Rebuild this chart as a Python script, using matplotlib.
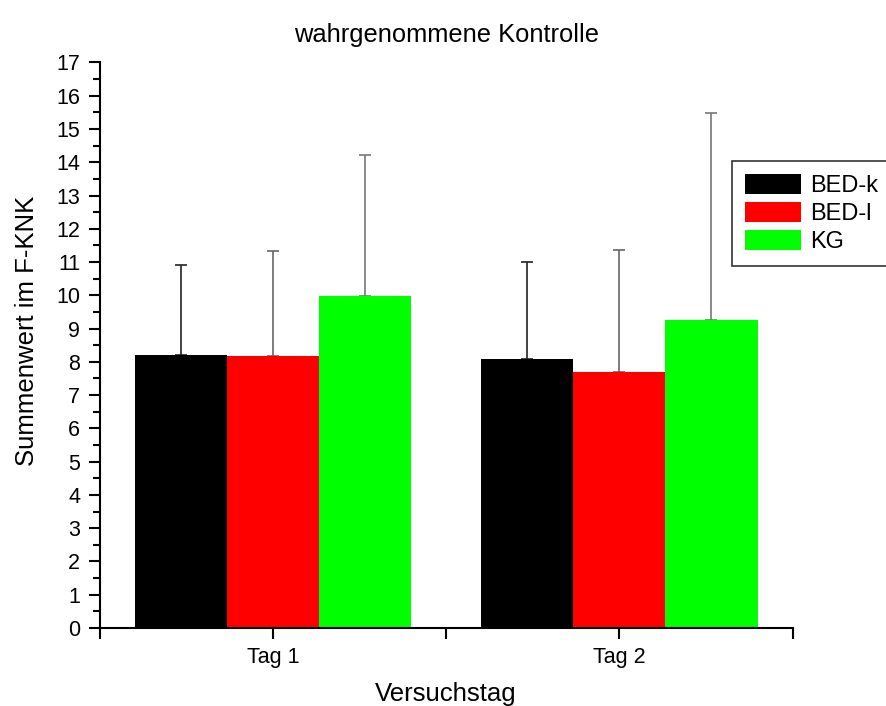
import numpy as np
import matplotlib
matplotlib.use('Agg')
import matplotlib.pyplot as plt
from matplotlib.ticker import MultipleLocator

plt.rcParams['font.family'] = ['Liberation Sans', 'DejaVu Sans']

# Data
days = ['Tag 1', 'Tag 2']
groups = ['BED-k', 'BED-l', 'KG']
colors = ['#000000', '#ff0000', '#00ff00']
err_colors = ['#222222', '#666666', '#777777']
means = {
    'BED-k': [8.20, 8.08],
    'BED-l': [8.18, 7.70],
    'KG':    [9.97, 9.27],
}
sds = {
    'BED-k': [2.70, 2.92],
    'BED-l': [3.15, 3.65],
    'KG':    [4.25, 6.20],
}

fig = plt.figure(figsize=(8.86, 7.06), dpi=100)
ax = fig.add_axes([0.1125, 0.1105, 0.782, 0.801])

x = np.arange(1, len(days) + 1)
width = 0.266
for i, g in enumerate(groups):
    pos = x + (i - 1) * width
    ax.bar(pos, means[g], width, color=colors[i], label=g, zorder=2)
    ax.errorbar(pos, means[g], yerr=[np.zeros(len(days)), sds[g]],
                fmt='none', ecolor=err_colors[i], elinewidth=1.2,
                capsize=4.5, capthick=1.2, zorder=1)

ax.set_xlim(0.5, 2.5)
ax.set_ylim(0, 17)
ax.set_xticks(x)
ax.set_xticklabels(days)
ax.xaxis.set_minor_locator(MultipleLocator(0.5))
ax.yaxis.set_major_locator(MultipleLocator(1))
ax.yaxis.set_minor_locator(MultipleLocator(0.5))

for s in ['top', 'right']:
    ax.spines[s].set_visible(False)
for s in ['left', 'bottom']:
    ax.spines[s].set_linewidth(1.5)

ax.tick_params(which='major', direction='out', length=8, width=1.5,
               labelsize=15.5, pad=6)
ax.tick_params(which='minor', direction='out', length=5, width=1.5)
ax.tick_params(axis='x', which='minor', length=8)

ax.set_title('wahrgenommene Kontrolle', fontsize=18.4, pad=15)
ax.set_xlabel('Versuchstag', fontsize=18.5, labelpad=10)
ax.set_ylabel('Summenwert im F-KNK', fontsize=18.5)
ax.yaxis.set_label_coords(-0.087, 0.526)

leg = ax.legend(loc='upper left', bbox_to_anchor=(0.826, 0.772),
                bbox_transform=fig.transFigure, fontsize=17,
                frameon=True, fancybox=False, edgecolor='black',
                handlelength=2.4, handleheight=0.9, labelspacing=0.22,
                borderpad=0.55, handletextpad=0.35, borderaxespad=0)
leg.get_frame().set_linewidth(1.2)

fig.savefig('out.png', dpi=100)
